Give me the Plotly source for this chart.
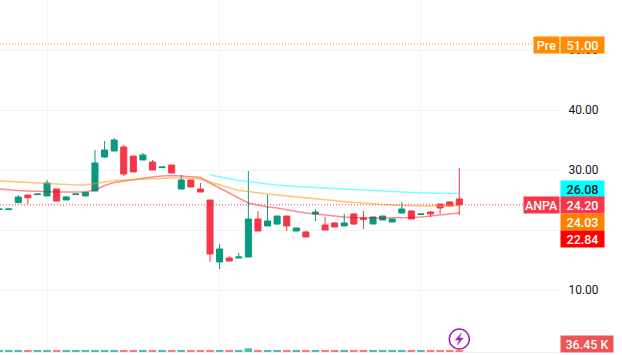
import plotly.graph_objects as go

idx = list(range(49))
opens = [23.4,23.4,24.55,25.83,25.9,25.67,26.83,25.0,25.9,25.67,26.5,32.17,33.17,33.83,32.33,31.67,31.33,30.4,30.83,26.83,28.33,26.83,25.0,14.67,15.33,15.33,15.5,21.83,20.67,21.0,22.33,19.83,19.67,22.67,20.83,21.17,20.67,22.67,22.0,21.0,21.67,21.33,22.83,23.17,22.58,23.0,24.33,24.67,25.17]
closes = [23.5,23.5,25.5,25.38,26.0,27.83,24.83,25.5,26.0,26.28,31.17,33.33,35.0,29.33,29.67,32.5,30.0,30.5,29.5,28.33,27.17,26.33,16.0,16.83,14.83,15.5,21.83,19.83,21.5,22.33,20.67,20.33,18.83,23.0,20.0,20.5,21.17,21.0,21.8,22.17,22.33,21.83,23.5,21.83,22.67,22.67,23.67,24.0,24.2]
highs = [23.5,23.5,25.83,25.83,26.0,28.33,26.83,25.67,26.0,26.28,33.33,34.83,35.33,34.17,32.33,32.83,31.67,30.5,30.83,29.17,28.33,27.83,25.0,17.67,15.67,16.17,29.83,23.17,25.83,22.33,22.33,20.33,19.83,23.5,22.17,21.33,22.67,22.83,23.17,22.17,22.33,21.83,24.67,23.33,22.67,23.17,24.33,24.83,30.33]
lows = [23.4,23.4,24.55,24.33,25.9,25.67,24.83,25.0,25.9,25.67,26.5,32.0,33.17,29.0,29.67,31.67,30.0,30.4,29.5,26.83,27.17,26.33,14.67,13.5,14.83,15.33,15.5,19.83,20.67,20.83,19.83,19.83,18.83,21.5,20.0,20.5,20.67,20.83,20.17,21.0,21.67,21.33,22.83,21.83,22.58,22.17,22.67,24.0,22.5]
volumes = [35000,36000,38000,37000,36000,38000,37000,36000,36000,36000,38000,37000,38000,39000,38000,36000,36000,35000,36000,37000,36000,36000,39000,38000,37000,36000,75000,38000,38000,37000,37000,36000,37000,36000,37000,36000,36000,37000,37000,36000,36000,36000,37000,37000,36000,36000,36000,37000,36450]
ma_red = [26.83,26.67,26.58,26.50,26.42,26.33,26.33,26.33,26.33,26.33,26.67,27.42,27.92,28.17,28.42,28.67,28.83,29.0,29.08,29.0,28.92,28.75,27.83,27.0,26.17,25.33,24.5,24.17,23.83,23.67,23.33,23.08,22.83,22.67,22.5,22.25,22.17,22.08,22.0,22.0,22.0,22.0,22.08,22.08,22.17,22.33,22.5,22.67,22.84]
ma_orange = [28.17,28.08,28.0,27.92,27.83,27.75,27.67,27.58,27.5,27.5,27.75,28.08,28.25,28.33,28.42,28.5,28.58,28.67,28.67,28.67,28.58,28.5,28.0,27.5,27.0,26.58,26.42,26.17,26.0,25.83,25.67,25.5,25.33,25.17,25.0,24.83,24.75,24.58,24.5,24.33,24.25,24.17,24.08,24.08,24.0,24.0,24.0,24.0,24.03]
ma_cyan_idx = list(range(22,49))
ma_cyan = [29.17,28.83,28.5,28.25,28.08,27.83,27.67,27.5,27.33,27.25,27.17,27.08,27.0,26.92,26.83,26.75,26.67,26.58,26.5,26.42,26.33,26.25,26.17,26.17,26.08,26.08,26.08]
y_ticks = [10,20,30,40,50]
y_tick_labels = ["10.00","","30.00","40.00","50.00"]
x_grid = [5,23,44]
last_price = 24.20
pre_price = 51.00

GREEN = "#089981"
RED = "#F6364A"
FONT = "Roboto"

fig = go.Figure()
vol_colors = ["#4FBFB0" if c >= o else "#F77C80" for o, c in zip(opens, closes)]
fig.add_bar(x=idx, y=volumes, yaxis="y2", marker=dict(color=vol_colors, line_width=0), width=0.8, showlegend=False)
fig.add_scatter(x=idx, y=ma_red, mode="lines", line=dict(color="rgba(255,0,0,0.45)", width=1.5), showlegend=False)
fig.add_scatter(x=idx, y=ma_orange, mode="lines", line=dict(color="rgba(255,152,0,0.55)", width=1.5), showlegend=False)
fig.add_scatter(x=ma_cyan_idx, y=ma_cyan, mode="lines", line=dict(color="rgba(0,255,255,0.5)", width=1.5), showlegend=False)
fig.add_candlestick(x=idx, open=opens, high=highs, low=lows, close=closes, whiskerwidth=0,
    increasing=dict(line=dict(color=GREEN, width=1), fillcolor=GREEN),
    decreasing=dict(line=dict(color=RED, width=1), fillcolor=RED), showlegend=False)

def badge(text, y, bg, fg="white", yshift=0, width=43, xshift=0, yref="y"):
    fig.add_annotation(xref="paper", x=1, xanchor="left", yref=yref, y=y, yanchor="middle", text=text,
        showarrow=False, bgcolor=bg, width=width, height=16, borderpad=0, xshift=xshift, yshift=yshift,
        font=dict(family=FONT, size=12.5, color=fg, weight=500), align="center")

badge("Pre", pre_price, "#FF8C00", yshift=-1, width=25, xshift=-26)
badge(f"{pre_price:.2f}", pre_price, "#FF8C00", yshift=-1, xshift=1)
badge("26.08", ma_cyan[-1], "#00FFFF", fg="#131722", yshift=5, xshift=1)
badge("ANPA", last_price, RED, yshift=0, width=35, xshift=-36)
badge(f"{last_price:.2f}", last_price, RED, xshift=1)
badge("24.03", ma_orange[-1], "#FF8000", yshift=-16, xshift=1)
badge("22.84", ma_red[-1], "#FF0000", yshift=-26.5, xshift=1)
badge("36.45 K", 0.0227, "#F05350", width=52, xshift=1, yref="paper")

fig.add_shape(type="line", xref="paper", x0=0, x1=1, yref="y", y0=last_price, y1=last_price, line=dict(color=RED, width=1, dash="1px,2px"))
fig.add_shape(type="line", xref="paper", x0=0, x1=1, yref="y", y0=pre_price, y1=pre_price, line=dict(color="#FF8C00", width=1, dash="1px,2px"))
PURPLE = "#9C27B0"
fig.add_shape(type="circle", xref="x", yref="y", xsizemode="pixel", ysizemode="pixel", xanchor=idx[-1], yanchor=1.83,
    x0=-10, x1=10, y0=-10, y1=10, line=dict(color=PURPLE, width=1.5), fillcolor="white")
fig.add_shape(type="path", xref="x", yref="y", xsizemode="pixel", ysizemode="pixel", xanchor=idx[-1], yanchor=1.83,
    path="M 2 6 L -4 -1 L 0 -1 L -2 -6 L 4 1 L 0 1 Z", line=dict(color=PURPLE, width=0.5), fillcolor=PURPLE)

fig.update_layout(
    width=622, height=355, margin=dict(l=0, r=63, t=0, b=3),
    paper_bgcolor="white", plot_bgcolor="white", boxgap=0.3, boxgroupgap=0.1, bargap=0.2, showlegend=False,
    xaxis=dict(range=[0.094, 58.4], rangeslider=dict(visible=False), tickmode="array", tickvals=x_grid,
        showticklabels=False, gridcolor="#F2F3F3", gridwidth=1, zeroline=False, showline=True, linecolor="#EDEDED", linewidth=1, ticks=""),
    yaxis=dict(range=[-0.333, 58.333], side="right", tickmode="array", tickvals=y_ticks, ticktext=y_tick_labels,
        gridcolor="#F2F3F3", gridwidth=1, zeroline=False, ticks="outside", ticklen=6, tickcolor="rgba(0,0,0,0)",
        tickfont=dict(family=FONT, size=12, color="#131722")),
    yaxis2=dict(range=[0, 7040000], overlaying="y", side="left", visible=False, showgrid=False),
)
fig.write_html("out.html", config={"displayModeBar": False}, post_script="document.body.style.margin='0';document.body.style.overflow='hidden';")
